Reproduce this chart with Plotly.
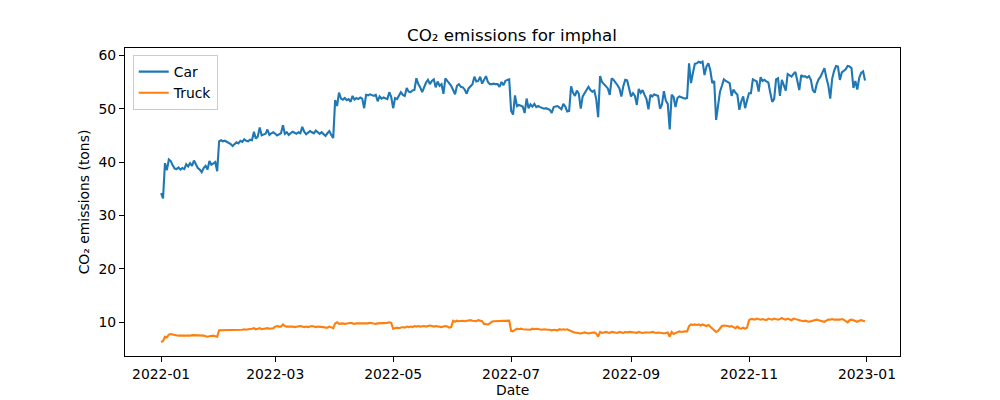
import pandas as pd
import plotly.graph_objects as go

# ---- data (daily values, 2022) ----
dates = pd.date_range("2022-01-01", "2022-12-31", freq="D")

car_jan = [34.2, 33.2, 39.8, 38.5, 40.5, 40.2, 39.4, 38.8, 38.7, 39.0, 38.6, 38.9, 38.7, 39.6, 39.2, 39.8,
           39.3, 40.3, 39.6, 38.9, 38.6, 38.1, 38.9, 39.3, 38.6, 40.2, 39.5, 39.8, 40.0, 38.3, 43.9]
car_feb = [44.1, 43.9, 44.0, 43.8, 43.5, 43.4, 43.0, 43.3, 43.7, 43.5, 44.0, 43.8, 44.3, 44.0, 43.9, 44.2,
           44.1, 45.7, 44.4, 44.8, 46.5, 45.0, 45.2, 45.3, 46.1, 45.1, 45.4, 45.6]
car_mar = [45.3, 45.0, 45.2, 45.4, 46.9, 45.3, 45.6, 45.1, 45.4, 45.7, 45.5, 45.3, 45.6, 45.4, 46.6, 45.7,
           45.2, 45.5, 45.8, 45.6, 45.4, 45.9, 45.5, 45.3, 45.6, 45.2, 44.9, 45.4, 45.8, 45.1, 44.5]
car_apr = [51.6, 50.5, 53.0, 51.9, 51.7, 52.0, 51.6, 51.8, 51.3, 52.4, 51.7, 52.0, 51.8, 52.1, 51.9, 50.1,
           52.6, 52.5, 52.7, 52.6, 52.4, 52.6, 51.4, 52.3, 51.9, 52.1, 52.0, 51.8, 53.1, 52.2]
car_may = [50.1, 52.0, 51.8, 52.5, 53.1, 52.6, 52.4, 53.9, 53.2, 53.1, 53.4, 53.5, 55.7, 54.6, 54.0, 53.1,
           54.2, 54.9, 55.4, 54.6, 55.2, 55.5, 54.0, 55.1, 54.3, 54.6, 52.8, 55.7, 55.2, 54.8, 54.3]
car_jun = [53.5, 52.7, 54.3, 54.6, 54.1, 54.0, 53.6, 52.8, 53.8, 54.3, 54.6, 56.0, 55.1, 55.2, 56.0, 54.7,
           55.3, 56.1, 55.0, 54.6, 54.6, 54.7, 54.6, 54.6, 54.1, 55.0, 54.4, 55.2, 55.4, 55.5]
car_jul = [49.6, 48.9, 52.5, 50.5, 50.7, 50.6, 50.4, 49.2, 51.9, 50.1, 50.8, 50.4, 50.9, 50.3, 50.5, 50.3,
           50.1, 50.0, 50.1, 50.0, 49.8, 49.2, 50.3, 50.4, 50.5, 50.2, 49.9, 50.9, 50.4, 49.5, 49.6]
car_aug = [54.2, 53.0, 52.4, 53.4, 52.8, 50.0, 52.3, 52.9, 53.3, 54.1, 53.5, 53.2, 53.4, 51.8, 48.4, 56.1,
           55.0, 54.6, 54.2, 53.8, 52.6, 55.7, 55.4, 55.0, 54.4, 53.8, 52.3, 54.2, 55.4, 55.3, 53.5]
car_sep = [52.3, 52.9, 52.4, 50.7, 53.7, 53.0, 53.5, 52.6, 51.8, 49.9, 52.6, 52.3, 52.7, 52.5, 52.4, 50.0,
           50.8, 53.3, 51.5, 50.9, 46.1, 52.6, 52.2, 50.3, 52.0, 52.3, 52.1, 52.0, 51.9, 52.0]
car_oct = [58.5, 54.8, 56.7, 58.4, 58.5, 58.8, 58.6, 58.8, 56.3, 57.9, 58.5, 57.2, 54.8, 55.2, 47.9, 50.5,
           53.2, 54.3, 55.5, 55.2, 55.0, 54.8, 52.4, 53.6, 53.0, 52.6, 49.8, 51.4, 52.3, 50.1, 51.6]
car_nov = [52.9, 52.9, 55.5, 55.3, 55.1, 53.2, 55.9, 55.2, 55.4, 55.1, 54.9, 53.0, 51.3, 51.8, 55.5, 55.7,
           52.4, 55.4, 54.4, 53.4, 56.5, 56.3, 56.0, 56.5, 56.9, 55.2, 53.5, 56.3, 56.0, 56.1]
car_dec = [55.8, 56.1, 55.4, 53.5, 53.0, 54.6, 55.5, 56.0, 56.8, 57.6, 55.8, 54.4, 51.9, 55.6, 57.1, 58.0,
           57.9, 55.4, 56.8, 57.1, 57.4, 58.0, 57.9, 57.6, 53.9, 55.2, 53.6, 55.8, 56.7, 57.0, 55.3]

truck_jan = [6.3, 6.5, 7.3, 7.2, 7.7, 7.8, 7.7, 7.6, 7.5, 7.5, 7.5, 7.5, 7.5, 7.4, 7.5, 7.5,
             7.6, 7.6, 7.5, 7.6, 7.5, 7.6, 7.5, 7.4, 7.3, 7.4, 7.5, 7.5, 7.4, 7.3, 8.5]
truck_feb = [8.5, 8.5, 8.6, 8.5, 8.5, 8.6, 8.5, 8.5, 8.6, 8.5, 8.6, 8.6, 8.7, 8.6, 8.7, 8.7,
             8.8, 8.9, 8.7, 8.8, 8.9, 8.7, 8.8, 8.8, 8.9, 8.8, 8.8, 8.9]
truck_mar = [9.2, 9.3, 9.2, 9.2, 9.6, 9.3, 9.2, 9.2, 9.3, 9.2, 9.1, 9.2, 9.2, 9.3, 9.2, 9.1,
             9.2, 9.1, 9.2, 9.3, 9.2, 9.1, 9.2, 9.2, 9.1, 9.1, 9.0, 9.0, 9.2, 9.1, 8.9]
truck_apr = [9.8, 10.0, 9.7, 9.8, 9.8, 9.7, 9.8, 9.8, 9.9, 9.8, 9.7, 9.8, 9.8, 9.7, 9.8, 9.8,
             9.7, 9.8, 9.9, 9.8, 9.8, 9.7, 9.8, 9.8, 9.9, 9.8, 9.8, 9.9, 10.0, 9.9]
truck_may = [8.8, 8.9, 9.0, 8.9, 9.0, 9.1, 9.0, 9.2, 9.1, 9.2, 9.1, 9.3, 9.2, 9.3, 9.2, 9.3,
             9.3, 9.2, 9.3, 9.4, 9.3, 9.2, 9.3, 9.2, 9.2, 9.1, 9.2, 9.3, 9.2, 9.0, 9.1]
truck_jun = [10.3, 10.1, 10.3, 10.2, 10.3, 10.3, 10.2, 10.3, 10.3, 10.4, 10.3, 10.3, 10.2, 10.4, 10.3, 10.2,
             9.7, 9.6, 9.6, 9.8, 10.1, 10.2, 10.2, 10.3, 10.2, 10.3, 10.3, 10.2, 10.3, 10.3]
truck_jul = [8.4, 8.3, 8.6, 8.8, 8.7, 8.8, 8.7, 8.7, 8.6, 8.7, 8.6, 8.8, 8.7, 8.8, 8.7, 8.7,
             8.6, 8.7, 8.6, 8.6, 8.6, 8.5, 8.6, 8.6, 8.5, 8.7, 8.6, 8.7, 8.6, 8.7, 8.5]
truck_aug = [8.3, 8.2, 8.1, 8.0, 8.0, 7.9, 8.0, 8.1, 8.0, 7.9, 8.0, 8.1, 8.1, 7.9, 7.3, 8.2,
             8.0, 8.1, 8.2, 8.1, 8.0, 8.2, 8.1, 8.1, 8.0, 8.2, 8.1, 8.0, 8.2, 8.1, 8.2]
truck_sep = [8.2, 8.1, 8.1, 8.0, 8.2, 8.1, 8.0, 8.1, 8.1, 8.0, 8.1, 8.2, 8.1, 8.0, 8.1, 8.1,
             8.0, 7.9, 8.0, 8.1, 7.3, 8.2, 7.8, 8.0, 8.1, 8.3, 8.2, 8.3, 8.3, 8.3]
truck_oct = [9.3, 9.6, 9.5, 9.6, 9.5, 9.6, 9.4, 9.6, 9.5, 9.3, 9.5, 9.2, 8.9, 8.6, 8.2, 8.4,
             8.8, 9.3, 9.4, 9.4, 9.3, 9.2, 9.3, 9.1, 8.9, 9.2, 8.9, 8.8, 9.0, 8.8, 9.0]
truck_nov = [10.4, 10.6, 10.6, 10.5, 10.7, 10.6, 10.5, 10.6, 10.5, 10.4, 10.7, 10.6, 10.5, 10.7, 10.6, 10.5,
             10.6, 10.8, 10.6, 10.5, 10.7, 10.6, 10.4, 10.7, 10.6, 10.5, 10.4, 10.3, 10.2, 10.3]
truck_dec = [10.2, 10.1, 10.2, 10.3, 10.4, 10.5, 10.4, 10.3, 10.2, 10.1, 10.3, 10.5, 10.5, 10.6, 10.5, 10.5,
             10.4, 10.5, 10.6, 10.5, 10.2, 10.0, 10.4, 10.5, 10.4, 10.2, 10.1, 10.3, 10.4, 10.3, 10.2]

car = (car_jan + car_feb + car_mar + car_apr + car_may + car_jun +
       car_jul + car_aug + car_sep + car_oct + car_nov + car_dec)
truck = (truck_jan + truck_feb + truck_mar + truck_apr + truck_may + truck_jun +
         truck_jul + truck_aug + truck_sep + truck_oct + truck_nov + truck_dec)

x_tickvals = ["2022-01-01", "2022-03-01", "2022-05-01", "2022-07-01", "2022-09-01", "2022-11-01", "2023-01-01"]
x_ticktext = ["2022-01", "2022-03", "2022-05", "2022-07", "2022-09", "2022-11", "2023-01"]
y_tickvals = [10, 20, 30, 40, 50, 60]

FONT = "DejaVu Sans"

fig = go.Figure()
fig.add_trace(go.Scatter(x=dates, y=car, mode="lines", name="Car",
                         line=dict(color="#1f77b4", width=2.1)))
fig.add_trace(go.Scatter(x=dates, y=truck, mode="lines", name="Truck",
                         line=dict(color="#ff7f0e", width=2.1)))

axis_common = dict(showline=True, linecolor="black", linewidth=1.1, mirror=True,
                   ticks="outside", ticklen=5, tickwidth=1.1, tickcolor="black",
                   showgrid=False, zeroline=False, automargin=False,
                   tickfont=dict(family=FONT, size=13.9, color="black"))

fig.update_layout(
    width=1000, height=400,
    margin=dict(l=117, r=108, t=40, b=52),
    paper_bgcolor="white", plot_bgcolor="white",
    title=dict(text="CO₂ emissions for imphal", x=0.504, xanchor="center",
               y=0.9325, yanchor="middle",
               font=dict(family=FONT, size=16.7, color="black")),
    xaxis=dict(range=["2021-12-13 08:00", "2023-01-18 02:00"],
               tickvals=x_tickvals, ticktext=x_ticktext,
               **axis_common),
    yaxis=dict(range=[3.69, 61.37], tickvals=y_tickvals,
               title=dict(text="CO₂ emissions (tons)", standoff=5,
                          font=dict(family=FONT, size=13.9, color="black")),
               **axis_common),
    legend=dict(x=0.01, y=0.977, xanchor="left", yanchor="top",
                bgcolor="rgba(255,255,255,0.8)", bordercolor="#cccccc", borderwidth=1,
                font=dict(family=FONT, size=13.9, color="black"),
                tracegroupgap=0),
    showlegend=True,
    annotations=[dict(text="Date", xref="paper", yref="paper", x=0.5, y=-0.1104,
                      xanchor="center", yanchor="middle", showarrow=False,
                      font=dict(family=FONT, size=13.9, color="black"))],
)

fig.write_html("out.html")
